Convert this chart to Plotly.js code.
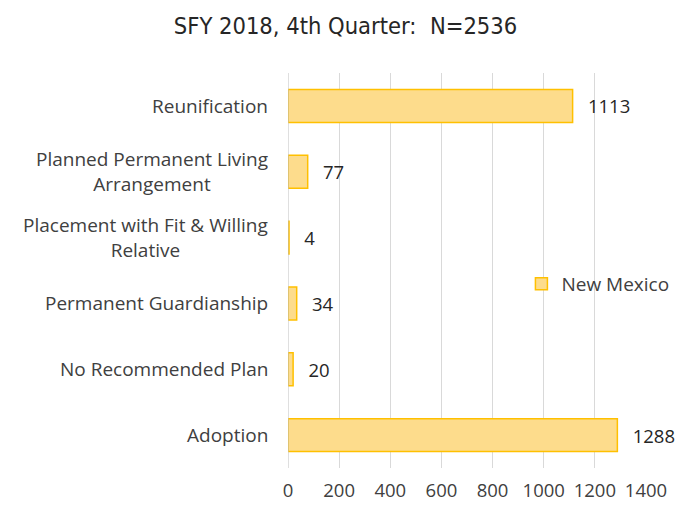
<!DOCTYPE html>
<html>
<head>
<meta charset="utf-8">
<script src="https://cdn.plot.ly/plotly-3.0.1.min.js"></script>
<style>html,body{margin:0;padding:0;background:#fff;}</style>
</head>
<body>
<div id="chart" style="width:691px;height:508px;"></div>
<script>
// Data (bottom to top, as drawn by the category axis)
const categories = [
  "Adoption",
  "No Recommended Plan",
  "Permanent Guardianship",
  "Placement with Fit & Willing<br>Relative",
  "Planned Permanent Living<br>Arrangement",
  "Reunification"
];
const values = [1288, 20, 34, 4, 77, 1113];
const seriesName = "New Mexico";
const chartTitle = "SFY 2018, 4th Quarter:  N=2536";
const xTicks = [0, 200, 400, 600, 800, 1000, 1200, 1400];

const labelFont = {family: "'Open Sans', sans-serif", size: 19, color: "#404040"};
const tickFont = {family: "'Open Sans', sans-serif", size: 18.5, color: "#404040"};

const trace = {
  type: "bar",
  orientation: "h",
  y: categories,
  x: values,
  name: seriesName,
  marker: {color: "#FDDC8C", line: {color: "#FFC000", width: 1.5}},
  text: values.map(v => "\u2002\u2009" + v),
  textposition: "outside",
  textfont: {family: "'Open Sans', sans-serif", size: 18.5, color: "#262626"},
  cliponaxis: false,
  showlegend: true,
  hoverinfo: "none"
};

const annotations = categories.map(c => ({
  xref: "paper", yref: "y",
  x: 0, y: c,
  xanchor: "right", yanchor: "middle",
  xshift: -18,
  text: c, align: "center", showarrow: false,
  font: labelFont
}));

const layout = {
  width: 691, height: 508,
  margin: {l: 288, r: 45, t: 73, b: 40},
  paper_bgcolor: "#fff", plot_bgcolor: "#fff",
  title: {
    text: chartTitle,
    font: {family: "'DejaVu Sans Condensed', 'Liberation Sans Narrow', sans-serif", size: 23.5, color: "#262626"},
    x: 0.5, xanchor: "center", y: 0.95, yanchor: "middle"
  },
  bargap: 0.5,
  xaxis: {
    range: [0, 1400],
    tickvals: xTicks,
    ticktext: xTicks.map(String),
    showgrid: true, gridcolor: "#D9D9D9", gridwidth: 1,
    zeroline: false, showline: false,
    ticks: "", ticklabelstandoff: 9,
    tickfont: tickFont,
    fixedrange: true
  },
  yaxis: {
    type: "category",
    showticklabels: false,
    showgrid: false, zeroline: false,
    showline: false,
    ticks: "",
    fixedrange: true
  },
  shapes: [{
    type: "line", xref: "x", yref: "paper",
    x0: 0, x1: 0, y0: 0, y1: 1,
    line: {color: "#BFBFBF", width: 1}
  }],
  legend: {
    x: 0.652, y: 0.466, xanchor: "left", yanchor: "middle",
    font: labelFont, bgcolor: "rgba(0,0,0,0)",
    itemwidth: 30
  },
  annotations: annotations
};

Plotly.newPlot("chart", [trace], layout, {displayModeBar: false, staticPlot: true});
</script>
</body>
</html>
